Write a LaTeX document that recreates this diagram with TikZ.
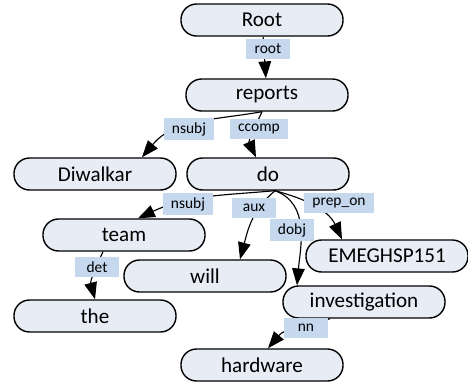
\documentclass[tikz,border=0pt]{standalone}
\usepackage{fontspec}
\setmainfont{Carlito}
\usetikzlibrary{calc,arrows.meta}

\begin{document}
\begin{tikzpicture}[x=0.025cm,y=-0.025cm,>={Triangle[length=12pt,width=9pt]}]
		\definecolor{wordfill}{RGB}{232,236,244}
		\definecolor{relfill}{RGB}{197,216,238}
		\tikzstyle{word}=[draw,fill=wordfill,line width=1pt,rounded corners=0.39cm,
							minimum width=4.05cm,minimum height=0.8cm,
							font=\fontsize{15}{18}\selectfont]
		\tikzstyle{rel}=[fill=relfill,minimum width=1.1cm,minimum height=0.5cm,
							inner xsep=0.2cm,font=\fontsize{11}{13}\selectfont]
		\tikzstyle{dep}=[->,line width=0.8pt]

		\useasboundingbox (0,0) rectangle (468,383);

		% words
		\foreach \name/\x/\y in {Root/262/20, reports/267/95, Diwalkar/95/174,
				do/268/174, team/124/235, will/205/276, EMEGHSP151/387/256,
				the/95/316, investigation/364/302, hardware/262/365}
			\node[word] (\name) at (\x,\y) {\name};

		% ends of the arcs
		\coordinate (repout) at ($(reports.south)+(-5,0)$);
		\coordinate (doout) at ($(do.south)+(7,0)$);
		\coordinate (teamout) at ($(team.south)+(-21,0)$);
		\coordinate (invout) at ($(investigation.south)+(-34,0)$);
		\coordinate (diwin) at ($(Diwalkar.north)+(47,0)$);
		\coordinate (doin) at ($(do.north)+(-12,0)$);
		\coordinate (teamin) at ($(team.north)+(14,0)$);
		\coordinate (willin) at ($(will.north)+(35,0)$);
		\coordinate (invin) at ($(investigation.north)+(-67,0)$);
		\coordinate (emegin) at ($(EMEGHSP151.north)+(-45,0)$);
		\coordinate (hardin) at ($(hardware.north)+(6,0)$);

		% arcs
		\draw [dep] (Root) -- (reports);
		\draw [dep] (repout) to [out=190,in=50] (diwin);
		\draw [dep] (repout) to [out=245,in=115] (doin);
		\draw [dep] (doout) to [out=185,in=25] (teamin);
		\draw [dep] (doout) to [out=220,in=75] (willin);
		\draw [dep] (doout) to [out=-20,in=85] (invin);
		\draw [dep] (doout) to [out=-15,in=115] (emegin);
		\draw [dep] (teamout) to [out=245,in=105] (the.north);
		\draw [dep] (invout) to [out=200,in=50] (hardin);

		% relation labels
		\foreach \name/\txt/\x/\y in {lroot/root/268/49, lnsubja/nsubj/189/129,
				lccomp/ccomp/259/129, lnsubjb/nsubj/188/204, laux/aux/254/208,
				ldobj/dobj/292/230, lprep/prep\_on/339/203, ldet/det/97/267,
				lnn/nn/306/328}
			\node[rel] (\name) at (\x,\y) {\txt};

	\end{tikzpicture}
\end{document}
